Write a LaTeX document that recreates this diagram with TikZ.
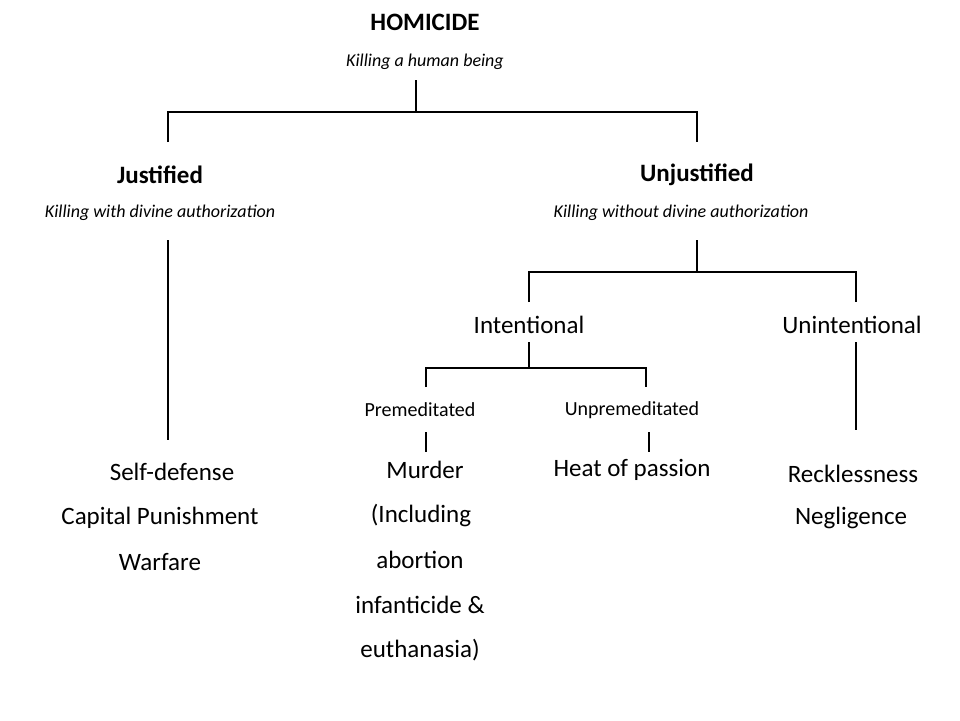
\documentclass[tikz,border=0pt]{standalone}
\usepackage{fontspec}
\setmainfont{Carlito}
\begin{document}
\begin{tikzpicture}[x=1pt,y=-1pt,
  ln/.style={line width=2.6pt},
  ttl/.style={font=\fontsize{25}{30}\selectfont\bfseries},
  sub/.style={font=\fontsize{18}{22}\selectfont\itshape},
  mid/.style={font=\fontsize{25}{30}\selectfont},
  sml/.style={font=\fontsize{20}{24}\selectfont},
  sc/.style={font=\fontsize{25}{30}\selectfont\scshape, align=center}]
\useasboundingbox (0,0) rectangle (960,720);
\node[ttl] (hom) at (425,22) {HOMICIDE};
\node[sub] (homs) at (425,62) {Killing a human being};
\coordinate (h0) at (416,80); \coordinate (h1) at (416,112);
\coordinate (hl) at (168,112); \coordinate (hr) at (697,112);
\coordinate (hl2) at (168,142); \coordinate (hr2) at (697,142);
\draw[ln] (h0)--(h1); \draw[ln] (hl2)--(hl)--(hr)--(hr2);
\node[ttl] (jus) at (160,175) {Justified};
\node[sub] (juss) at (160,213) {Killing with divine authorization};
\node[ttl] (unj) at (697,175) {Unjustified};
\node[sub] (unjs) at (681,213) {Killing without divine authorization};
\coordinate (j0) at (168,240); \coordinate (j1) at (168,440);
\draw[ln] (j0)--(j1);
\coordinate (u0) at (697,240); \coordinate (u1) at (697,272);
\coordinate (ul) at (529,272); \coordinate (ur) at (856,272);
\coordinate (ul2) at (529,302); \coordinate (ur2) at (856,302);
\draw[ln] (u0)--(u1); \draw[ln] (ul2)--(ul)--(ur)--(ur2);
\node[mid] (int) at (529,325) {Intentional};
\node[mid] (unint) at (852,325) {Unintentional};
\coordinate (i0) at (529,342); \coordinate (i1) at (529,368);
\coordinate (il) at (426,368); \coordinate (ir) at (646,368);
\coordinate (il2) at (426,387); \coordinate (ir2) at (646,387);
\draw[ln] (i0)--(i1); \draw[ln] (il2)--(il)--(ir)--(ir2);
\node[sml] (pre) at (420,410) {Premeditated};
\node[sml] (unpre) at (632,410) {Unpremeditated};
\coordinate (p0) at (426,432); \coordinate (p1) at (426,452);
\coordinate (q0) at (649,432); \coordinate (q1) at (649,452);
\draw[ln] (p0)--(p1); \draw[ln] (q0)--(q1);
\coordinate (n0) at (856,342); \coordinate (n1) at (856,430);
\draw[ln] (n0)--(n1);
\node[sc] (jl1) at (172,472) {Self-defense};
\node[sc] (jl2) at (160,518) {Capital Punishment};
\node[sc] (jl3) at (160,562) {Warfare};
\node[sc] (m1) at (425,470) {Murder};
\node[sc] (m2) at (421,516) {(Including};
\node[sc] (m3) at (420,560) {abortion};
\node[sc] (m4) at (420,605) {infanticide \&};
\node[sc] (m5) at (420,650) {euthanasia)};
\node[sc] (hp) at (632,470) {Heat of passion};
\node[sc] (r1) at (853,474) {Recklessness};
\node[sc] (r2) at (851,518) {Negligence};
\end{tikzpicture}
\end{document}
